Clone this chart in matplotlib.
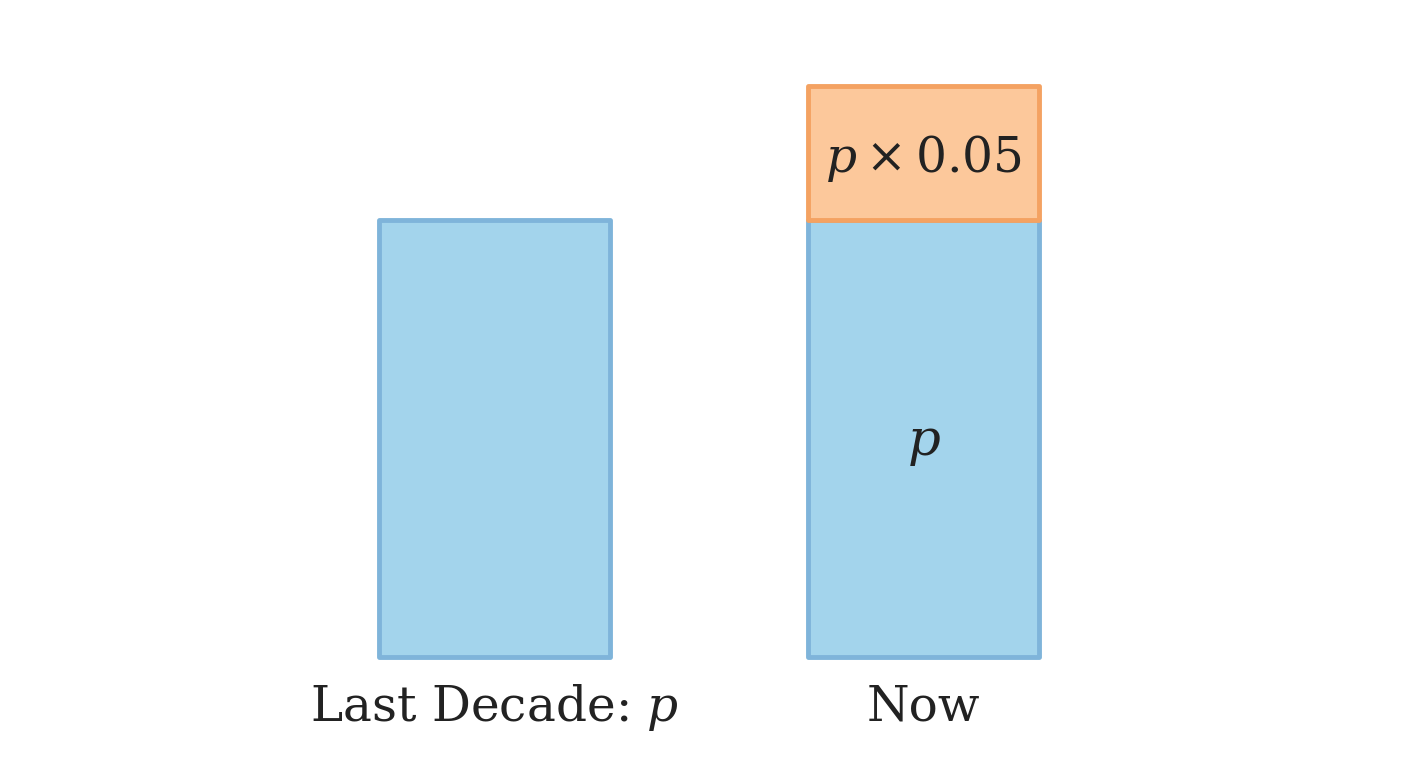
import matplotlib
matplotlib.use("Agg")
import matplotlib.pyplot as plt

categories = ["Last Decade: $p$", "Now"]
base_values = [1.0, 1.0]          # p
extra_values = [0.0, 0.307]       # drawn increment (schematic)
base_label = "$p$"
extra_label = r"$p \times 0.05$"

blue_fill, blue_edge = "#A3D4EC", "#7FB4DA"
orange_fill, orange_edge = "#FCC89B", "#F4A262"

plt.rcParams["mathtext.fontset"] = "dejavuserif"
plt.rcParams["font.family"] = "DejaVu Serif"

fig = plt.figure(figsize=(14.08, 7.68), dpi=100)
ax = fig.add_axes([0, 0, 1, 1])
ax.set_xlim(-494.5 / 429, (1408 - 494.5) / 429)
ax.set_ylim(-(768 - 657) / 437, 657 / 437)
ax.axis("off")

x = list(range(len(categories)))
w = 231 / 429
ax.bar(x, base_values, width=w, color=blue_fill, edgecolor=blue_edge,
       linewidth=3.5, joinstyle="round", zorder=2)
ax.bar(x[1], extra_values[1], bottom=base_values[1], width=w, color=orange_fill,
       edgecolor=orange_edge, linewidth=3.5, joinstyle="round", zorder=3)

for xi, lab in zip(x, categories):
    ax.text(xi, -0.115, lab, ha="center", va="center", fontsize=35, color="#222222")

ax.text(x[1], base_values[1] / 2 - 0.01, base_label, ha="center", va="center",
        fontsize=37, color="#222222")
ax.text(x[1], base_values[1] + extra_values[1] / 2 - 0.012, extra_label, ha="center",
        va="center", fontsize=35, color="#222222")

fig.savefig("out.png", dpi=100, facecolor="white")
